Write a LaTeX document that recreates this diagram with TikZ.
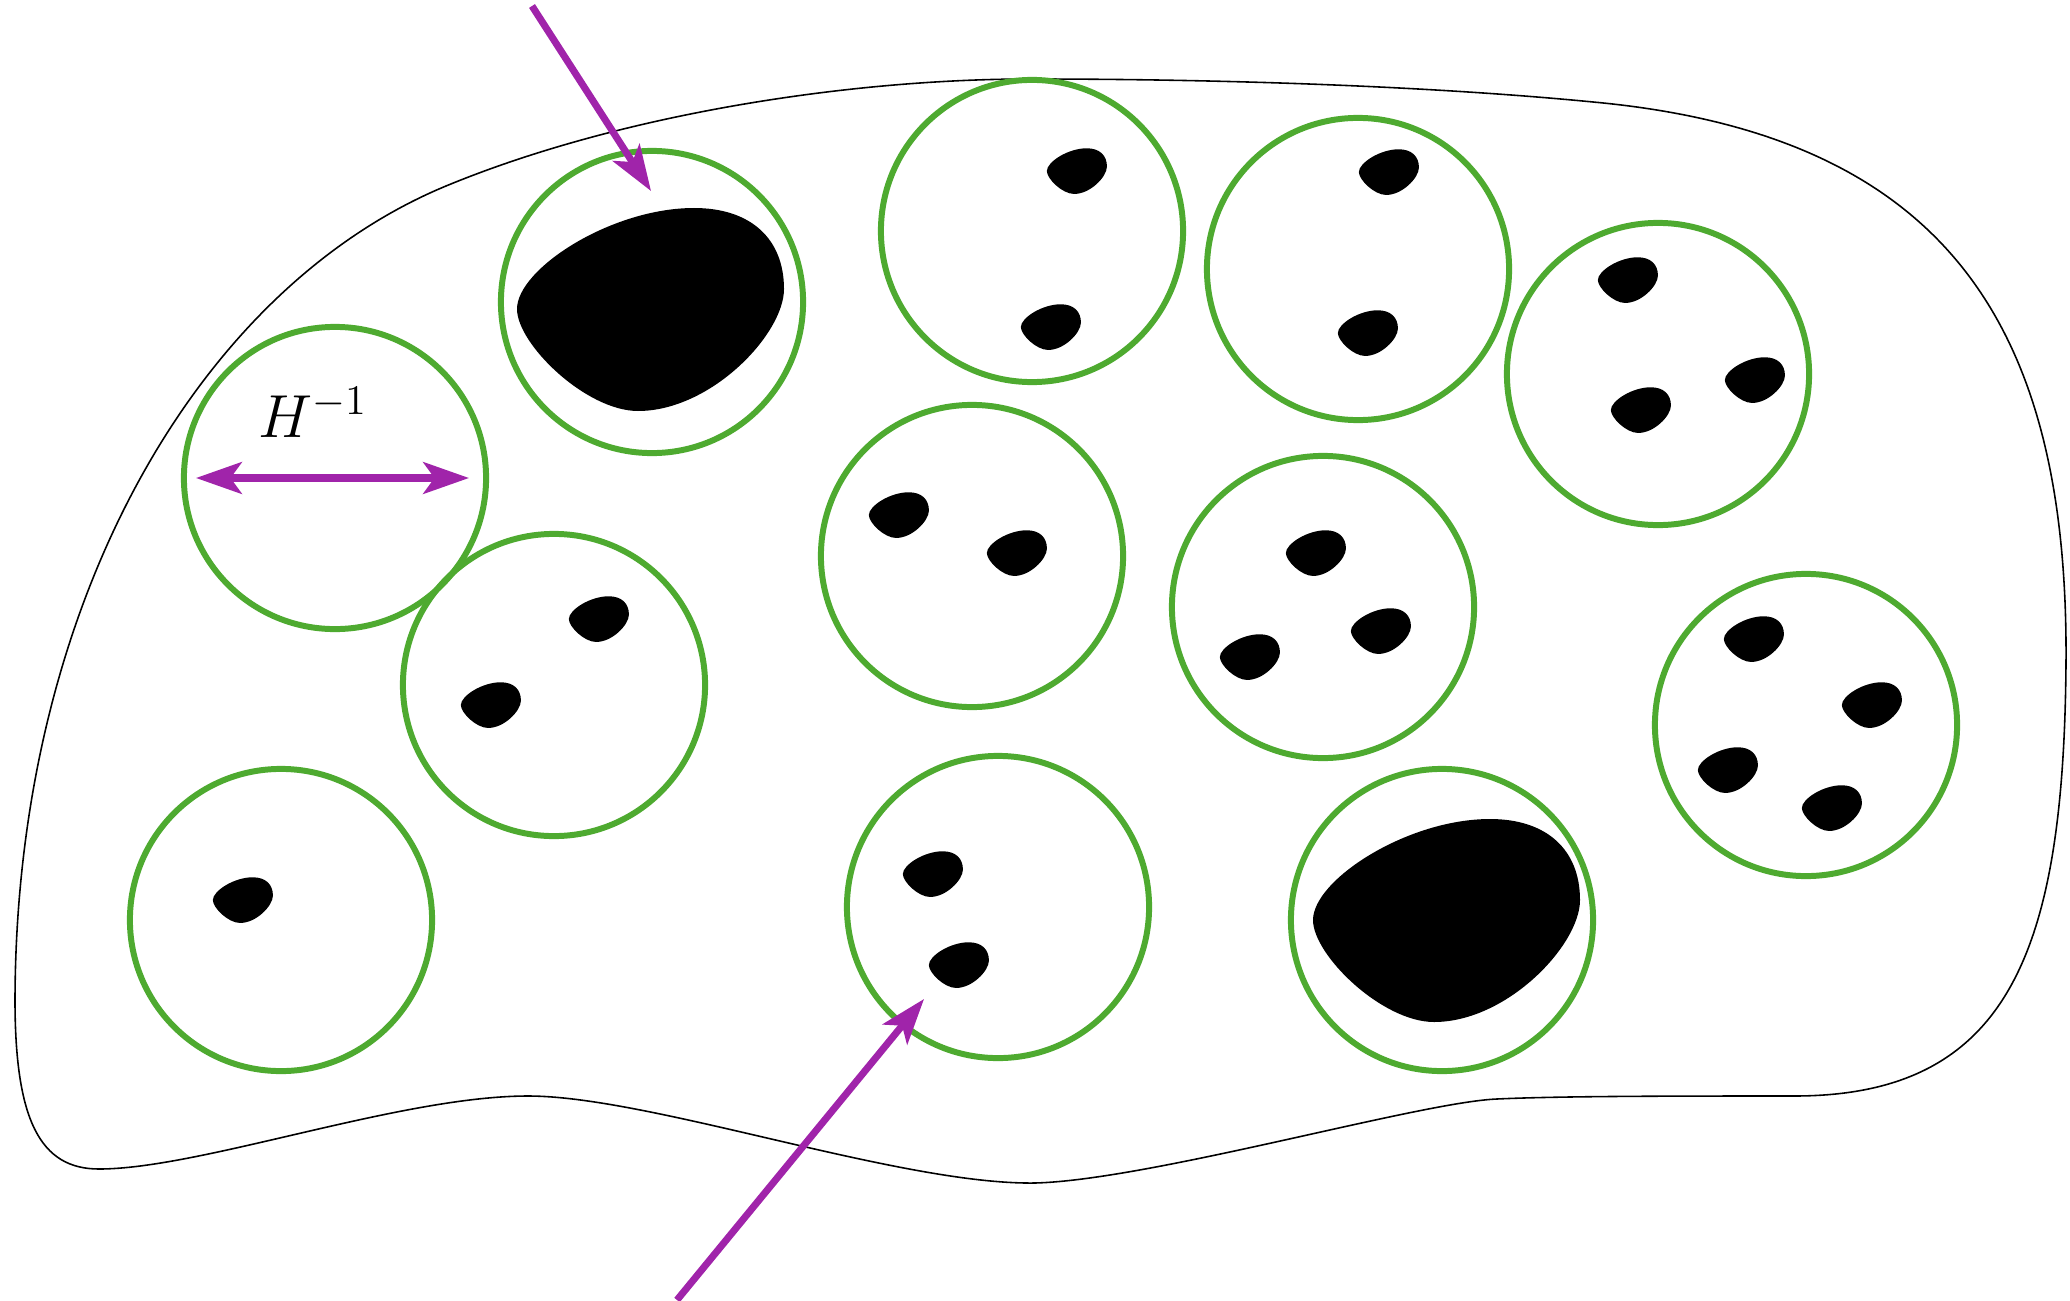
\documentclass[tikz,border=0pt]{standalone}
\usetikzlibrary{arrows.meta}
\definecolor{cgreen}{RGB}{78,170,48}
\definecolor{cpurple}{RGB}{160,36,170}
\newcommand{\myblob}[3]{%
  \fill[black, shift={(#1,#2)}, scale=#3]
    (-134,0) .. controls (-134,-40) and (-40,-101) .. (43,-101)
    .. controls (100,-101) and (133,-70) .. (133,-20)
    .. controls (133,25) and (60,102) .. (-13,102)
    .. controls (-65,102) and (-134,35) .. cycle;}
\begin{document}
\begin{tikzpicture}[x=0.01cm, y=-0.01cm,
  ring/.style={circle, draw=cgreen, line width=1.7pt, minimum size=3.02cm, inner sep=0pt},
  outline/.style={draw=black, line width=0.45pt},
  parrow/.style={draw=cpurple, line width=2pt, -{Stealth[length=13pt, width=9pt, inset=3.2pt]}},
  pdarrow/.style={draw=cpurple, line width=2pt, {Stealth[length=13pt, width=9pt, inset=3.2pt]}-{Stealth[length=13pt, width=9pt, inset=3.2pt]}}]
\useasboundingbox (0,0) rectangle (2070,1300);
\clip (0,0) rectangle (2070,1300);

% outer domain
\draw[outline] (15,1000)
  .. controls (16,600) and (200,288) .. (446,186)
  .. controls (620,114) and (850,79) .. (1030,79)
  .. controls (1250,79) and (1450,88) .. (1593,102)
  .. controls (1950,135) and (2068,330) .. (2066,661)
  .. controls (2064,950) and (2010,1096) .. (1794,1096)
  .. controls (1680,1096) and (1560,1096) .. (1497,1099)
  .. controls (1420,1102) and (1150,1180) .. (1035,1183)
  .. controls (900,1185) and (650,1096) .. (528,1096)
  .. controls (400,1096) and (200,1169) .. (99,1169)
  .. controls (40,1169) and (15,1120) .. cycle;

% balls
\node[ring] (c1) at (335,478) {};
\node[ring] (c2) at (652,302) {};
\node[ring] (c3) at (1032,231) {};
\node[ring] (c4) at (1358,269) {};
\node[ring] (c5) at (1658,374) {};
\node[ring] (c6) at (554,685) {};
\node[ring] (c7) at (972,556) {};
\node[ring] (c8) at (1323,607) {};
\node[ring] (c9) at (1806,725) {};
\node[ring] (c10) at (281,920) {};
\node[ring] (c11) at (998,907) {};
\node[ring] (c12) at (1442,920) {};

% inclusions
\myblob{651}{309}{1}
\myblob{1447}{920}{1}
\myblob{1077}{171}{0.225}
\myblob{1051}{327}{0.225}
\myblob{1389}{172}{0.225}
\myblob{1368}{333}{0.225}
\myblob{1628}{280}{0.225}
\myblob{1755}{380}{0.225}
\myblob{1641}{410}{0.225}
\myblob{599}{619}{0.225}
\myblob{491}{705}{0.225}
\myblob{899}{515}{0.225}
\myblob{1017}{553}{0.225}
\myblob{1316}{553}{0.225}
\myblob{1381}{631}{0.225}
\myblob{1250}{657}{0.225}
\myblob{1754}{639}{0.225}
\myblob{1872}{705}{0.225}
\myblob{1728}{770}{0.225}
\myblob{1832}{808}{0.225}
\myblob{243}{900}{0.225}
\myblob{933}{874}{0.225}
\myblob{959}{965}{0.225}

% arrows
\coordinate (ta) at (532,6);
\coordinate (tb) at (651,191);
\coordinate (ba) at (677,1300);
\coordinate (bb) at (924,999);
\coordinate (dl) at (196,478);
\coordinate (dr) at (469,478);
\draw[parrow] (ta) -- (tb);
\draw[parrow] (ba) -- (bb);
\draw[pdarrow] (dl) -- (dr);
\node[anchor=base, font=\fontsize{17}{20}\selectfont, inner sep=0pt] (hl) at (313,437) {$H^{-1}$};
\end{tikzpicture}
\end{document}
